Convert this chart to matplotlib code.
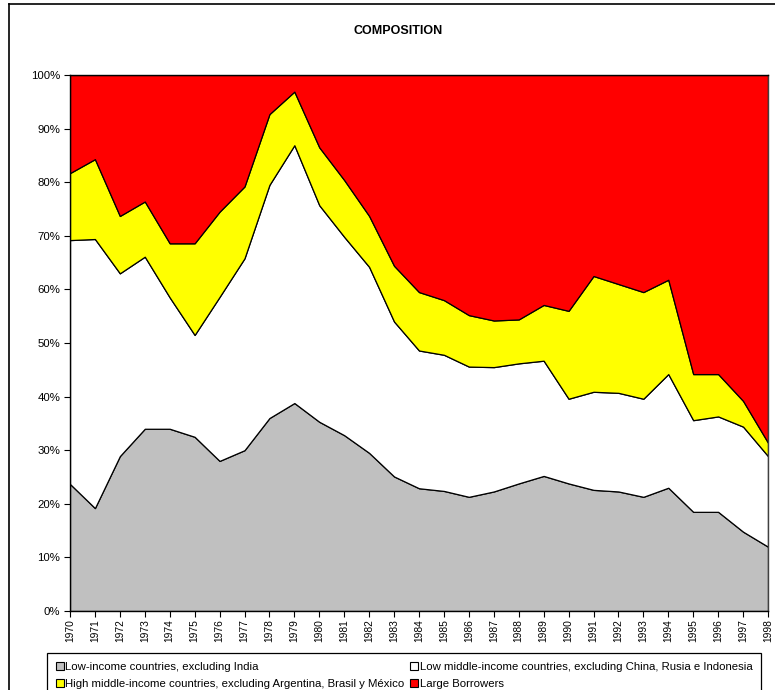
import matplotlib
matplotlib.use("Agg")
import matplotlib.pyplot as plt
from matplotlib import font_manager
from matplotlib.patches import Patch
from matplotlib.lines import Line2D
from matplotlib.ticker import PercentFormatter

years = list(range(1970, 1999))
low_income = [23.7, 19.2, 28.9, 34.0, 34.0, 32.5, 28.0, 30.0, 36.0, 38.8, 35.3, 32.8, 29.5, 25.1, 22.9,
              22.4, 21.3, 22.3, 23.8, 25.2, 23.8, 22.6, 22.3, 21.3, 23.0, 18.5, 18.5, 14.8, 12.0]
low_middle = [45.5, 50.2, 34.1, 32.1, 24.5, 19.0, 30.6, 35.8, 43.5, 48.1, 40.4, 37.0, 34.7, 28.9, 25.7,
              25.4, 24.3, 23.2, 22.4, 21.5, 15.8, 18.3, 18.4, 18.3, 21.2, 17.1, 17.8, 19.6, 16.9]
high_middle = [12.5, 14.9, 10.7, 10.3, 10.1, 17.1, 15.9, 13.4, 13.2, 10.0, 10.8, 10.6, 9.5, 10.4, 10.9,
               10.2, 9.6, 8.7, 8.2, 10.4, 16.4, 21.6, 20.3, 19.9, 17.6, 8.6, 7.9, 4.8, 2.5]
large_borrowers = [18.3, 15.7, 26.3, 23.6, 31.4, 31.4, 25.5, 20.8, 7.3, 3.1, 13.5, 19.6, 26.3, 35.6, 40.5,
                   42.0, 44.8, 45.8, 45.6, 42.9, 44.0, 37.5, 39.0, 40.5, 38.2, 55.8, 55.8, 60.8, 68.6]
series_names = ["Low-income countries, excluding India",
                "Low middle-income countries, excluding China, Rusia e Indonesia",
                "High middle-income countries, excluding Argentina, Brasil y México",
                "Large Borrowers"]
colors = ["#C0C0C0", "#FFFFFF", "#FFFF00", "#FF0000"]
title = "COMPOSITION"

names = {f.name for f in font_manager.fontManager.ttflist}
base_font = "Liberation Sans" if "Liberation Sans" in names else "DejaVu Sans"
narrow_font = "Liberation Sans Narrow" if "Liberation Sans Narrow" in names else base_font
plt.rcParams['font.family'] = [base_font, 'DejaVu Sans']

fig = plt.figure(figsize=(7.75, 6.9), dpi=100)
ax = fig.add_axes([70/775, 1-611/690, 698/775, 536/690])

ax.stackplot(years, low_income, low_middle, high_middle, large_borrowers,
             colors=colors, edgecolor="black", linewidth=0.9)
ax.set_xlim(1970, 1998)
ax.set_ylim(0, 100)
ax.set_xticks(years)
ax.set_xticklabels([str(y) for y in years], rotation=90, fontsize=7.4)
ax.set_yticks(range(0, 101, 10))
ax.yaxis.set_major_formatter(PercentFormatter(decimals=0))
ax.tick_params(axis='y', labelsize=8.2, length=4, width=0.8, pad=3, colors="black")
ax.tick_params(axis='x', length=4, width=0.8, pad=2)
for side in ["left", "bottom", "top"]:
    ax.spines[side].set_linewidth(1.0)
    ax.spines[side].set_color("black")
ax.spines["right"].set_color("#404040")
ax.spines["right"].set_linewidth(1.0)

fig.text(398/775, 1-31/690, title, ha="center", va="center", fontsize=9.0, fontweight="bold")

# outer chart border (left and top visible)
fig.add_artist(Line2D([9/775, 9/775], [0, 1-4/690], transform=fig.transFigure, color="black", lw=1.2))
fig.add_artist(Line2D([9/775, 1], [1-4/690, 1-4/690], transform=fig.transFigure, color="black", lw=1.2))

handles = [Patch(facecolor=c, edgecolor="black", linewidth=0.8) for c in colors]
order = [0, 2, 1, 3]
leg = fig.legend([handles[i] for i in order], [series_names[i] for i in order],
                 loc="upper left", bbox_to_anchor=(47/775, 1-653/690), ncol=2,
                 frameon=True, fancybox=False, edgecolor="black", framealpha=1,
                 handlelength=0.7, handleheight=0.7, handletextpad=0.15,
                 columnspacing=0.5, labelspacing=0.65, borderpad=0.75, borderaxespad=0,
                 prop={"family": narrow_font, "size": 8.2})
leg.get_frame().set_linewidth(0.9)

fig.savefig("out.png", dpi=100)
